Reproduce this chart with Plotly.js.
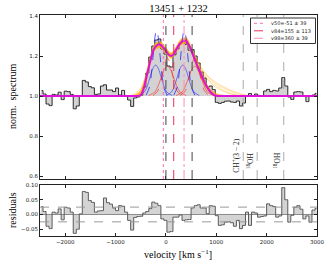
<!DOCTYPE html>
<html><head><meta charset="utf-8">
<script src="https://cdn.plot.ly/plotly-3.0.1.min.js"></script>
<style>html,body{margin:0;padding:0;background:#fff}#chart{width:332px;height:266px}</style>
</head><body><div id="chart"></div>
<script>
// ---- data ----
const velocity = [-2470,-2410,-2350,-2290,-2230,-2170,-2110,-2050,-1990,-1930,-1870,-1810,-1750,-1690,-1630,-1570,-1510,-1450,-1390,-1330,-1270,-1210,-1150,-1090,-1030,-970,-910,-850,-790,-730,-670,-610,-550,-490,-430,-370,-310,-250,-190,-130,-70,-10,50,110,170,230,290,350,410,470,530,590,650,710,770,830,890,950,1010,1070,1130,1190,1250,1310,1370,1430,1490,1550,1610,1670,1730,1790,1850,1910,1970,2030,2090,2150,2210,2270,2330,2390,2450,2510,2570,2630,2690,2750,2810,2870,2930,2990];
const spectrum = [1.027,1.010,0.960,0.952,1.008,1.005,1.019,0.982,1.024,1.022,1.008,0.936,0.950,1.002,1.078,1.070,1.047,1.041,1.008,1.010,1.050,1.056,1.030,1.030,1.022,1.040,1.005,1.028,1.000,0.980,0.948,0.990,0.995,1.004,1.045,1.115,1.195,1.250,1.280,1.285,1.235,1.210,1.150,1.145,1.206,1.236,1.263,1.272,1.258,1.229,1.232,1.200,1.165,1.120,1.090,1.045,1.050,1.032,0.968,0.963,0.968,0.974,0.975,0.970,0.968,0.975,0.950,0.965,1.000,1.012,1.000,1.010,1.003,1.000,1.025,1.033,1.022,1.028,1.025,1.040,1.092,1.050,0.995,0.983,1.020,1.022,1.020,1.000,0.972,1.000,1.005,1.013];
const residuals = [0.027,0.010,-0.040,-0.048,0.008,0.005,0.019,-0.018,0.024,0.022,0.008,-0.064,-0.050,0.002,0.078,0.075,0.047,0.041,0.008,0.012,0.013,0.056,0.040,0.035,0.022,0.013,0.030,0.028,0.008,-0.020,-0.053,-0.010,-0.007,-0.006,0.005,0.010,0.020,0.042,0.038,0.030,-0.015,-0.020,-0.060,-0.058,-0.009,-0.009,-0.002,-0.020,-0.018,-0.017,0.022,0.030,0.033,0.022,0.022,0.003,0.030,0.028,-0.004,-0.037,-0.035,-0.026,-0.025,-0.028,-0.040,-0.020,-0.048,-0.037,0.008,-0.037,0.008,0.005,-0.009,-0.007,-0.005,0.036,0.030,0.027,-0.009,-0.005,0.091,0.050,-0.026,-0.003,0.025,0.030,0.018,-0.015,-0.005,-0.026,0.015,0.020];

const modelVel = [-2500,-700,-650,-600,-550,-500,-450,-400,-350,-300,-250,-200,-150,-100,-50,0,50,100,150,200,250,300,350,400,450,500,550,600,650,700,750,800,850,900,950,1000,1050,1100,3000];
const modelFlux = [1.0,1.0,1.0,1.0,1.0,1.005,1.03,1.08,1.134,1.185,1.228,1.248,1.258,1.254,1.242,1.226,1.208,1.2,1.208,1.23,1.252,1.268,1.277,1.276,1.257,1.23,1.198,1.165,1.135,1.107,1.078,1.052,1.032,1.016,1.006,1.001,1.0,1.0,1.0];

const sampleVel = [-700,-600,-500,-400,-300,-200,-100,0,100,200,300,400,500,600,700,800,900,1000,1100,1200,1300,1400,1500,1600,1700];
const sampleUpper = [1.0,1.008,1.03,1.105,1.205,1.265,1.27,1.242,1.215,1.245,1.284,1.292,1.245,1.178,1.118,1.064,1.028,1.01,1.003,1.0,1.0,1.0,1.0,1.0,1.0];
const sampleLower = [1.0,1.0,1.0,1.06,1.17,1.235,1.24,1.212,1.188,1.218,1.255,1.262,1.218,1.15,1.09,1.04,1.01,1.0,1.0,1.0,1.0,1.0,1.0,1.0,1.0];
const sampleA = [1.0,1.0,1.008,1.07,1.18,1.24,1.25,1.225,1.205,1.235,1.27,1.275,1.24,1.185,1.14,1.105,1.08,1.06,1.045,1.033,1.022,1.013,1.006,1.002,1.0];
const sampleB = [1.0,1.0,1.01,1.085,1.19,1.25,1.255,1.23,1.2,1.225,1.262,1.27,1.235,1.175,1.125,1.09,1.062,1.042,1.028,1.017,1.009,1.004,1.0,1.0,1.0];
const sampleC = [1.0,1.0,1.004,1.075,1.182,1.245,1.25,1.222,1.198,1.228,1.265,1.272,1.238,1.19,1.145,1.11,1.085,1.067,1.052,1.04,1.028,1.018,1.01,1.004,1.0];
const sampleD = [1.003,1.015,1.04,1.1,1.19,1.25,1.258,1.23,1.205,1.232,1.27,1.28,1.235,1.17,1.11,1.058,1.02,1.004,1.0,1.0,1.0,1.0,1.0,1.0,1.0];
const sampleE = [1.0,1.0,1.006,1.078,1.185,1.246,1.256,1.232,1.206,1.232,1.268,1.274,1.228,1.17,1.13,1.095,1.07,1.05,1.035,1.022,1.012,1.005,1.0,1.0,1.0];
const sampleF = [1.0,1.004,1.02,1.09,1.195,1.258,1.262,1.235,1.21,1.238,1.276,1.284,1.24,1.172,1.112,1.062,1.03,1.014,1.006,1.002,1.0,1.0,1.0,1.0,1.0];

// Gaussian components (two doublet lines each)
const blueDashVel1 = [-395,-325,-290,-255,-220,-185,-150,-115,-80,-45,25];
const blueDashVel2 = [155,225,260,295,330,365,400,435,470,505,575];
const blueDashFlux = [1.004,1.045,1.107,1.200,1.291,1.330,1.291,1.200,1.107,1.045,1.004];
const blueVel1 = [-535,-425,-370,-315,-260,-205,-150,-95,-40,15,125];
const blueVel2 = [5,115,170,225,280,335,390,445,500,555,665];
const blueFlux = [1.002,1.021,1.050,1.094,1.137,1.155,1.137,1.094,1.050,1.021,1.002];
const redVel1 = [-345,-220,-158,-95,-32,30,92,155,218,280,405];
const redVel2 = [200,325,387,450,513,575,637,700,763,825,950];
const redFlux = [1.002,1.020,1.049,1.091,1.132,1.150,1.132,1.091,1.049,1.020,1.002];
const redDashVel1 = [-255,-160,-112,-65,-18,30,78,125,172,220,315];
const redDashVel2 = [290,385,433,480,527,575,623,670,717,765,860];
const redDashFlux = [1.002,1.026,1.062,1.115,1.168,1.190,1.168,1.115,1.062,1.026,1.002];

const percentileVel = [-51, 155, 360];
const legendLabels = ['v50=-51 \u00b1 39', 'v84=155 \u00b1 113', 'v98=360 \u00b1 39'];
const doubletVel = [0, 520];
const featureVel = [1535, 1812, 2340];
const featureLabels = ['CH<sup>+</sup>(3 \u2212 2)', '<sup>18</sup>OH', '<sup>18</sup>OH'];
const residualBand = [-0.025, 0.025];
const xTicks = [-2000, -1000, 0, 1000, 2000, 3000];
const yTicksTop = [0.6, 0.8, 1.0, 1.2, 1.4];
const yTicksRes = [-0.05, 0.0, 0.05, 0.10];
const titleText = '13451 + 1232';

// ---- styles ----
const pctStyles = [
  {color:'#ff6fae', dash:'dot'},
  {color:'#e8305a', dash:'dash'},
  {color:'#ff8fb8', dash:'dashdot'}
];
const serif = 'Liberation Serif';
const sans = 'DejaVu Sans';
const orangeThin = 'rgba(255,165,0,0.45)';

const T = 'x2', Y = 'y';
const traces = [];
// top panel spectrum fill
traces.push({x:[-2500,3000], y:[1,1], xaxis:T, yaxis:Y, mode:'lines', line:{width:0, color:'rgba(0,0,0,0)'}, hoverinfo:'skip'});
traces.push({x:velocity, y:spectrum, xaxis:T, yaxis:Y, mode:'lines', line:{shape:'hvh', color:'#2a2a2a', width:1}, fill:'tonexty', fillcolor:'rgba(200,200,200,0.8)'});
// orange band + samples
traces.push({x:sampleVel, y:sampleLower, xaxis:T, yaxis:Y, mode:'lines', line:{shape:'spline', color:'rgba(255,165,0,0.6)', width:0.8}});
traces.push({x:sampleVel, y:sampleUpper, xaxis:T, yaxis:Y, mode:'lines', line:{shape:'spline', color:'rgba(255,165,0,0.6)', width:0.8}, fill:'tonexty', fillcolor:'rgba(255,170,0,0.75)'});
[sampleA, sampleB, sampleC, sampleD, sampleE, sampleF].forEach(s => {
  traces.push({x:sampleVel, y:s, xaxis:T, yaxis:Y, mode:'lines', line:{shape:'spline', color:orangeThin, width:0.8}});
});
// components
function comp(xs, ys, color, dash, w) {
  traces.push({x:xs, y:ys, xaxis:T, yaxis:Y, mode:'lines', line:{shape:'spline', color:color, dash:dash, width:w}});
}
comp(blueVel1, blueFlux, 'rgba(30,30,255,0.8)', 'solid', 0.7);
comp(blueVel2, blueFlux, 'rgba(30,30,255,0.8)', 'solid', 0.7);
comp(redVel1, redFlux, 'rgba(255,30,30,0.8)', 'solid', 0.7);
comp(redVel2, redFlux, 'rgba(255,30,30,0.8)', 'solid', 0.7);
comp(redDashVel1, redDashFlux, 'rgba(255,30,30,0.8)', 'dash', 0.8);
comp(redDashVel2, redDashFlux, 'rgba(255,30,30,0.8)', 'dash', 0.8);
comp(blueDashVel1, blueDashFlux, 'rgba(30,30,255,0.85)', 'dash', 0.9);
comp(blueDashVel2, blueDashFlux, 'rgba(30,30,255,0.85)', 'dash', 0.9);
// best-fit model
traces.push({x:modelVel, y:modelFlux, xaxis:T, yaxis:Y, mode:'lines', line:{shape:'spline', color:'#dd10dd', width:2}});
// residual panel
traces.push({x:[-2500,3000], y:[0,0], xaxis:'x', yaxis:'y2', mode:'lines', line:{width:1, color:'#8a8a8a'}, hoverinfo:'skip'});
traces.push({x:velocity, y:residuals, xaxis:'x', yaxis:'y2', mode:'lines', line:{shape:'hvh', color:'#5a5a5a', width:1}, fill:'tonexty', fillcolor:'rgba(205,205,205,0.85)'});

// ---- shapes ----
const shapes = [];
percentileVel.forEach((v, i) => shapes.push({type:'line', xref:T, yref:'y domain', x0:v, x1:v, y0:0, y1:1, line:{color:pctStyles[i].color, dash:pctStyles[i].dash, width:1}}));
doubletVel.forEach(v => shapes.push({type:'line', xref:T, yref:'y domain', x0:v, x1:v, y0:0, y1:1, line:{color:'#444', dash:'dash', width:1}}));
featureVel.forEach(v => shapes.push({type:'line', xref:T, yref:'y domain', x0:v, x1:v, y0:0, y1:1, line:{color:'#aaa', dash:'dash', width:1}}));
residualBand.forEach(r => shapes.push({type:'line', xref:'x domain', yref:'y2', x0:0, x1:1, y0:r, y1:r, line:{color:'#999', dash:'dash', width:1}}));

// custom legend (paper coords)
const L = 40, PW = 277, PB = 236, PH = 221;
const px2x = p => (p - L) / PW;
const py2y = p => (PB - p) / PH;
shapes.push({type:'rect', xref:'paper', yref:'paper', x0:px2x(250.5), x1:px2x(315.5), y0:py2y(43.5), y1:py2y(18), line:{color:'#333', width:1}, fillcolor:'#fff', layer:'above'});
const legendRows = [23.3, 30.8, 38.3];
const annotations = [];
legendLabels.forEach((lab, i) => {
  shapes.push({type:'line', xref:'paper', yref:'paper', x0:px2x(254), x1:px2x(266), y0:py2y(legendRows[i]), y1:py2y(legendRows[i]), line:{color:pctStyles[i].color, dash:pctStyles[i].dash, width:1}});
  annotations.push({xref:'paper', yref:'paper', x:px2x(269), y:py2y(legendRows[i]), text:lab, showarrow:false, xanchor:'left', yanchor:'middle', font:{family:sans, size:5, color:'#222'}});
});
// feature labels
const featureY = [0.605, 0.625, 0.625];
featureVel.forEach((v, i) => annotations.push({xref:T, yref:Y, x:v, y:featureY[i], text:featureLabels[i], textangle:-90, showarrow:false, xanchor:'right', yanchor:'bottom', xshift:-0.5, font:{family:serif, size:7.5, color:'#222'}}));
// axis titles
annotations.push({xref:'paper', yref:'paper', x:px2x(12), y:py2y(97), text:'norm.  spectrum', textangle:-90, showarrow:false, xanchor:'center', yanchor:'middle', font:{family:serif, size:10, color:'#000'}});
annotations.push({xref:'paper', yref:'paper', x:px2x(12), y:py2y(210), text:'residuals', textangle:-90, showarrow:false, xanchor:'center', yanchor:'middle', font:{family:serif, size:10, color:'#000'}});
annotations.push({xref:'paper', yref:'paper', x:px2x(178), y:py2y(254), text:'velocity [km s<sup>\u22121</sup>]', showarrow:false, xanchor:'center', yanchor:'middle', font:{family:serif, size:10, color:'#000'}});

const axBase = {showline:true, mirror:'ticks', linecolor:'#222', linewidth:1, ticks:'inside', ticklen:3, tickcolor:'#222', showgrid:false, zeroline:false, tickfont:{family:sans, size:5.5, color:'#222'}};

const layout = {
  width:332, height:266,
  margin:{l:40, r:15, t:15, b:30},
  paper_bgcolor:'#fff', plot_bgcolor:'#fff',
  showlegend:false,
  title:{text:titleText, font:{family:serif, size:10.5, color:'#000'}, x:0.5, xref:'paper', y:1-8/266, yref:'container', yanchor:'middle', xanchor:'center'},
  xaxis: Object.assign({}, axBase, {anchor:'y2', domain:[0,1], range:[-2500,3000], tickvals:xTicks, tickformat:'d'}),
  xaxis2: Object.assign({}, axBase, {anchor:'y', domain:[0,1], range:[-2500,3000], matches:'x', tickvals:xTicks, showticklabels:false}),
  yaxis: Object.assign({}, axBase, {anchor:'x2', domain:[(236-179)/221, 1], range:[0.585, 1.405], tickvals:yTicksTop, tickformat:'.1f'}),
  yaxis2: Object.assign({}, axBase, {anchor:'x', domain:[0, (236-185)/221], range:[-0.073, 0.1], tickvals:yTicksRes, tickformat:'.2f'}),
  shapes: shapes,
  annotations: annotations
};

Plotly.newPlot('chart', traces, layout, {staticPlot:true, displayModeBar:false});
</script>
</body></html>
